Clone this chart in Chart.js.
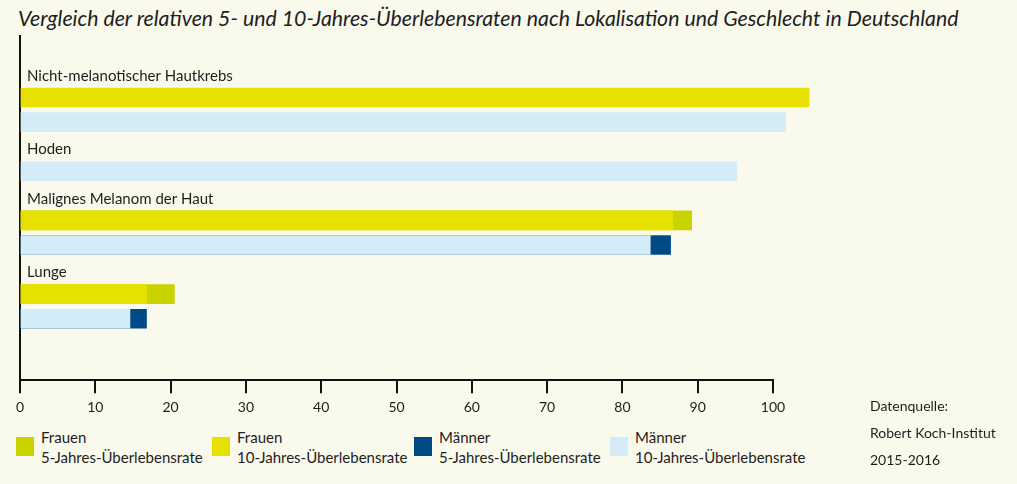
<!DOCTYPE html>
<html>
<head>
<meta charset="utf-8">
<script src="https://cdn.jsdelivr.net/npm/chart.js@4/dist/chart.umd.min.js"></script>
<style>
  html, body { margin: 0; padding: 0; }
  body { width: 1017px; height: 484px; background: #f9f9ec; position: relative; overflow: hidden; font-family: Lato, "Open Sans", sans-serif; color: #1e1e1e; }
  #title { position: absolute; left: 18px; top: 5px; font-size: 21.3px; font-style: italic; white-space: nowrap; }
  #wrap { position: absolute; left: 0; top: 0; width: 1017px; height: 422px; }
  .item { position: absolute; top: 427px; font-size: 15px; line-height: 20px; }
  .sw { position: absolute; left: 0; top: 10px; width: 18px; height: 19px; }
  .item span { display: block; padding-left: 25px; white-space: nowrap; }
  #source { position: absolute; left: 870px; top: 392px; font-size: 14px; line-height: 27px; }
</style>
</head>
<body>
<div id="title">Vergleich der relativen 5- und 10-Jahres-Überlebensraten nach Lokalisation und Geschlecht in Deutschland</div>
<div id="wrap"><canvas id="chart"></canvas></div>
<div id="legend"></div>
<div id="source">Datenquelle:<br>Robert Koch-Institut<br>2015-2016</div>
<script>
const sites = ['Nicht-melanotischer Hautkrebs', 'Hoden', 'Malignes Melanom der Haut', 'Lunge'];
const frauen5 = [null, null, 89.2, 20.5];
const frauen10 = [104.8, null, 86.7, 16.8];
const maenner5 = [null, null, 86.4, 16.8];
const maenner10 = [101.7, 95.2, 83.7, 14.6];
const xTicks = [0, 10, 20, 30, 40, 50, 60, 70, 80, 90, 100];

const colF5 = '#c9d300';
const colF10 = '#e7e100';
const colM5 = '#004b87';
const colM10 = '#d4ebf8';

// one row per site title, then one row per sex that has data
let rows = [''];
let f5 = [null], f10 = [null], m5 = [null], m10 = [null];
sites.forEach((s, i) => {
    rows.push(s); f5.push(null); f10.push(null); m5.push(null); m10.push(null);
    if (frauen10[i] != null || frauen5[i] != null) {
        rows.push(''); f5.push(frauen5[i]); f10.push(frauen10[i]); m5.push(null); m10.push(null);
    }
    rows.push(''); f5.push(null); f10.push(null); m5.push(maenner5[i]); m10.push(maenner10[i]);
});
rows.push('', '');
f5.push(null, null); f10.push(null, null); m5.push(null, null); m10.push(null, null);

function ds(label, data, color, order) {
    return { label: label, data: data, backgroundColor: color, order: order, grouped: false, clip: false, barThickness: 19 };
}

new Chart(document.getElementById('chart'), {
    type: 'bar',
    data: {
        labels: rows,
        datasets: [
            ds('Frauen 5-Jahres-Überlebensrate', f5, colF5, 2),
            ds('Frauen 10-Jahres-Überlebensrate', f10, colF10, 1),
            ds('Männer 5-Jahres-Überlebensrate', m5, colM5, 2),
            ds('Männer 10-Jahres-Überlebensrate', m10, colM10, 1)
        ]
    },
    options: {
        indexAxis: 'y',
        responsive: true,
        maintainAspectRatio: false,
        animation: false,
        layout: { padding: { left: 20, right: 244, top: 36, bottom: 0 } },
        plugins: { legend: { display: false }, tooltip: { enabled: false } },
        scales: {
            x: {
                min: 0, max: 100,
                afterBuildTicks: axis => { axis.ticks = xTicks.map(v => ({ value: v })); },
                grid: { drawOnChartArea: false, drawTicks: true, tickLength: 13, color: '#111', lineWidth: 2 },
                border: { display: true, color: '#111', width: 2 },
                ticks: { color: '#1e1e1e', font: { family: 'Lato', size: 14 }, padding: 6, maxRotation: 0 }
            },
            y: {
                z: 1,
                afterFit: axis => { axis.width = 0; },
                grid: { display: false },
                border: { display: true, color: '#111', width: 2 },
                ticks: { mirror: true, padding: 7, labelOffset: 3, color: '#1e1e1e', font: { family: 'Lato', size: 15 }, autoSkip: false }
            }
        }
    }
});

const legendItems = [
    ['Frauen', '5-Jahres-Überlebensrate', colF5, 16],
    ['Frauen', '10-Jahres-Überlebensrate', colF10, 212],
    ['Männer', '5-Jahres-Überlebensrate', colM5, 414],
    ['Männer', '10-Jahres-Überlebensrate', colM10, 610]
];
const legend = document.getElementById('legend');
legendItems.forEach(it => {
    const d = document.createElement('div');
    d.className = 'item';
    d.style.left = it[3] + 'px';
    d.innerHTML = '<div class="sw" style="background:' + it[2] + '"></div><span>' + it[0] + '</span><span>' + it[1] + '</span>';
    legend.appendChild(d);
});
</script>
</body>
</html>
